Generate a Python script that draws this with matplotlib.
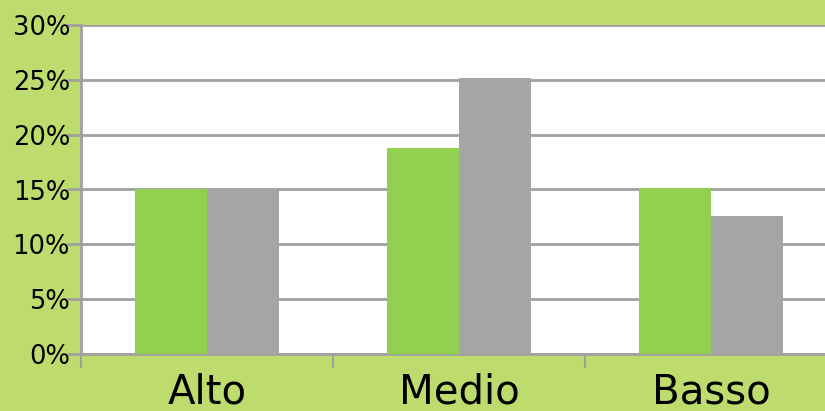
import numpy as np
import matplotlib as mpl
mpl.use('Agg')
import matplotlib.pyplot as plt
from matplotlib.ticker import FuncFormatter

categories = ["Alto", "Medio", "Basso"]
serie_verde = [15.0, 18.8, 15.1]
serie_grigia = [15.0, 25.2, 12.6]
yticks = [0, 5, 10, 15, 20, 25, 30]

bg = "#bedc6e"
fig = plt.figure(figsize=(8.25, 4.11), dpi=100, facecolor=bg)
ax = fig.add_axes([81/825, 57/411, 756/825, 329/411])
ax.set_facecolor("white")

x = np.arange(len(categories)) + 0.5
w = 72/252
ax.bar(x - w/2, serie_verde, width=w, color="#92d050", zorder=3)
ax.bar(x + w/2, serie_grigia, width=w, color="#a5a5a5", zorder=3)

ax.set_xlim(0, 3)
ax.set_ylim(0, 30)
ax.set_yticks(yticks)
ax.yaxis.set_major_formatter(FuncFormatter(lambda v, p: "{0:.0f}%".format(v)))
ax.grid(axis='y', color="#a0a0a0", linewidth=2, zorder=1)

# category boundaries as ticks, labels centered
ax.set_xticks([0, 1, 2, 3])
ax.set_xticklabels([])
ax.set_xticks(x, minor=True)
ax.set_xticklabels(categories, minor=True, fontsize=29)
ax.tick_params(axis='x', which='minor', length=0, pad=13)
ax.tick_params(axis='x', which='major', length=10, width=1.5, color="#a0a0a0")
ax.tick_params(axis='y', length=10, width=2, color="#a0a0a0", labelsize=18.5, pad=-2)

for s in ['top', 'right']:
    ax.spines[s].set_visible(False)
for s in ['left', 'bottom']:
    ax.spines[s].set_color("#a0a0a0")
    ax.spines[s].set_linewidth(2)

plt.savefig("out.png", dpi=100, facecolor=bg)
